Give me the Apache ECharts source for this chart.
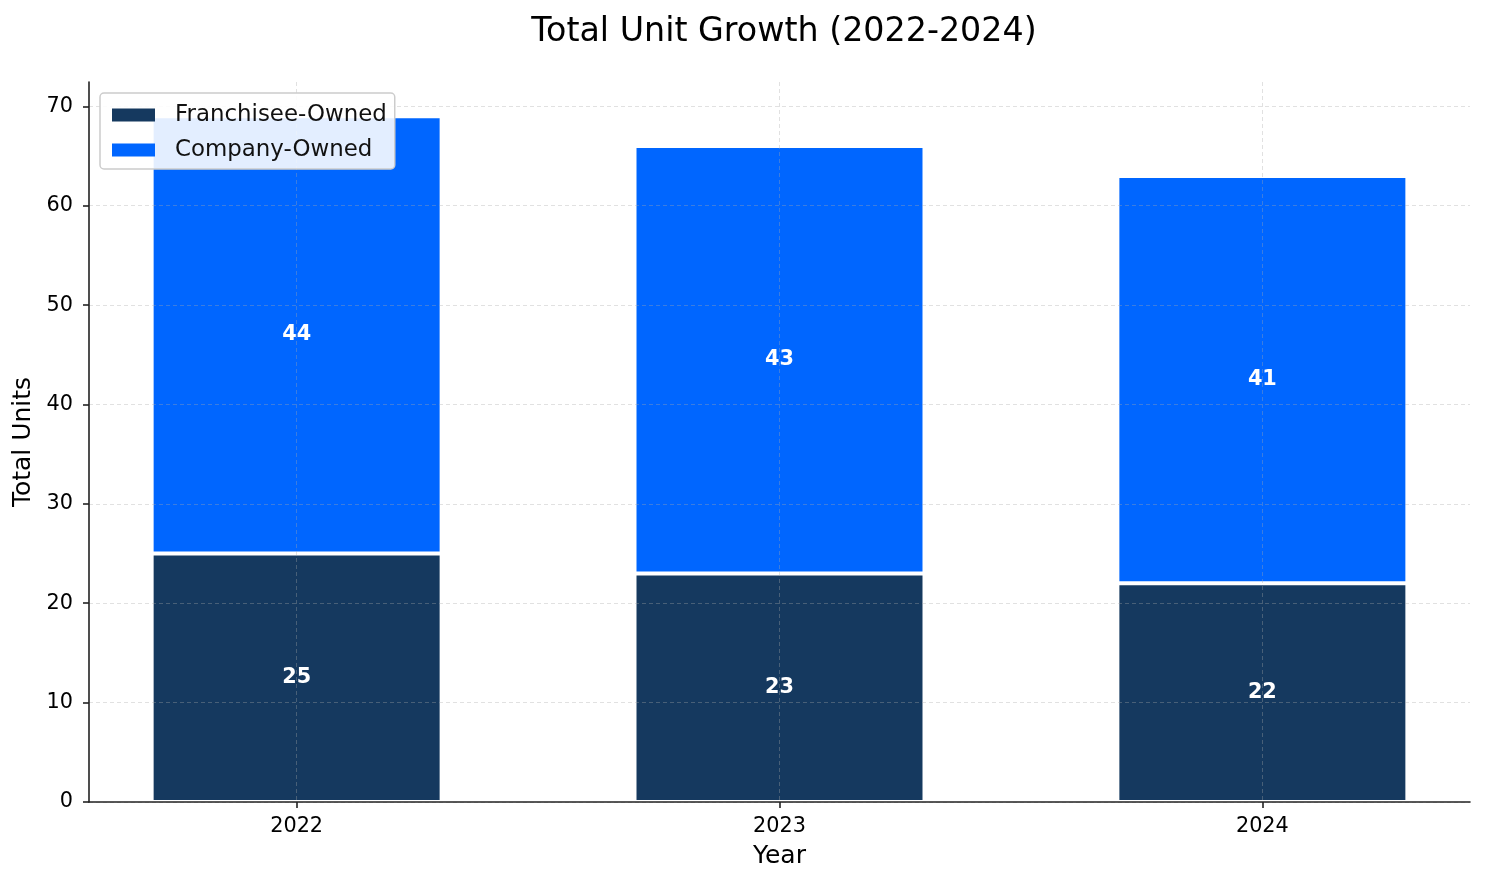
<!DOCTYPE html>
<html>
<head>
<meta charset="utf-8">
<script src="https://cdn.jsdelivr.net/npm/echarts@6/dist/echarts.min.js"></script>
<style>
html,body{margin:0;padding:0;background:#fff;}
#chart{width:1485px;height:884px;}
</style>
</head>
<body>
<div id="chart"></div>
<script>
const years = ['2022', '2023', '2024'];
const franchiseeOwned = [25, 23, 22];
const companyOwned = [44, 43, 41];
const yTicks = [0, 10, 20, 30, 40, 50, 60, 70];

const FONT = 'DejaVu Sans';
const idx = years.map((_, i) => i);

const chart = echarts.init(document.getElementById('chart'), null, {renderer: 'canvas'});
const gridLine = {show: true, lineStyle: {color: 'rgba(170,170,170,0.35)', type: [4, 3], width: 1}};
const barLabel = {show: true, position: 'inside', color: '#fff', fontWeight: 'bold', fontSize: 20.8, fontFamily: FONT,
  formatter: p => String(p.value[0])};

chart.setOption({
  animation: false,
  backgroundColor: '#ffffff',
  textStyle: {fontFamily: FONT},
  title: {
    text: 'Total Unit Growth (2022-2024)',
    left: 779, top: 11, textAlign: 'center',
    textStyle: {fontFamily: FONT, fontSize: 33.3, fontWeight: 'normal', color: '#000'}
  },
  legend: {
    orient: 'vertical',
    left: 100, top: 93,
    z: 10,
    backgroundColor: 'rgba(255,255,255,0.89)',
    borderColor: '#cccccc', borderWidth: 1.5, borderRadius: 4,
    padding: [10, 8, 7, 12],
    itemWidth: 43, itemHeight: 13, itemGap: 11,
    icon: 'rect',
    itemStyle: {borderWidth: 0},
    textStyle: {fontFamily: FONT, fontSize: 22.9, color: '#111', lineHeight: 24, padding: [0, 0, 0, 15]},
    data: ['Franchisee-Owned', 'Company-Owned']
  },
  grid: {left: 89, right: 15, top: 82, bottom: 82, containLabel: false},
  xAxis: {
    type: 'value', min: -0.43, max: 2.43, z: 5,
    name: 'Year', nameLocation: 'middle', nameGap: 42,
    nameTextStyle: {fontFamily: FONT, fontSize: 25, color: '#000'},
    axisLine: {show: true, onZero: false, lineStyle: {color: '#222', width: 1.6}},
    axisTick: {show: true, customValues: idx, length: 6, lineStyle: {color: '#222', width: 1.6}},
    axisLabel: {customValues: idx, margin: 14, fontFamily: FONT, fontSize: 20.8, color: '#000',
      formatter: v => years[Math.round(v)]},
    splitLine: gridLine
  },
  yAxis: {
    type: 'value', min: 0, max: 72.45, z: 5,
    name: 'Total Units', nameLocation: 'middle', nameGap: 47, nameRotate: 90,
    nameTextStyle: {fontFamily: FONT, fontSize: 25, color: '#000'},
    axisLine: {show: true, onZero: false, lineStyle: {color: '#222', width: 1.6}},
    axisTick: {show: true, customValues: yTicks, length: 6, lineStyle: {color: '#222', width: 1.6}},
    axisLabel: {customValues: yTicks, margin: 16, fontFamily: FONT, fontSize: 20.8, color: '#000'},
    splitLine: gridLine
  },
  series: [
    {
      name: 'Franchisee-Owned', type: 'bar', stack: 'units', barWidth: 290,
      encode: {x: 1, y: 0},
      itemStyle: {color: '#15395f', borderColor: '#ffffff', borderWidth: 2},
      label: barLabel,
      data: franchiseeOwned.map((v, i) => [v, i])
    },
    {
      name: 'Company-Owned', type: 'bar', stack: 'units', barWidth: 290,
      encode: {x: 1, y: 0},
      itemStyle: {color: '#0066ff', borderColor: '#ffffff', borderWidth: 2},
      label: barLabel,
      data: companyOwned.map((v, i) => [v, i])
    }
  ]
});
</script>
</body>
</html>
